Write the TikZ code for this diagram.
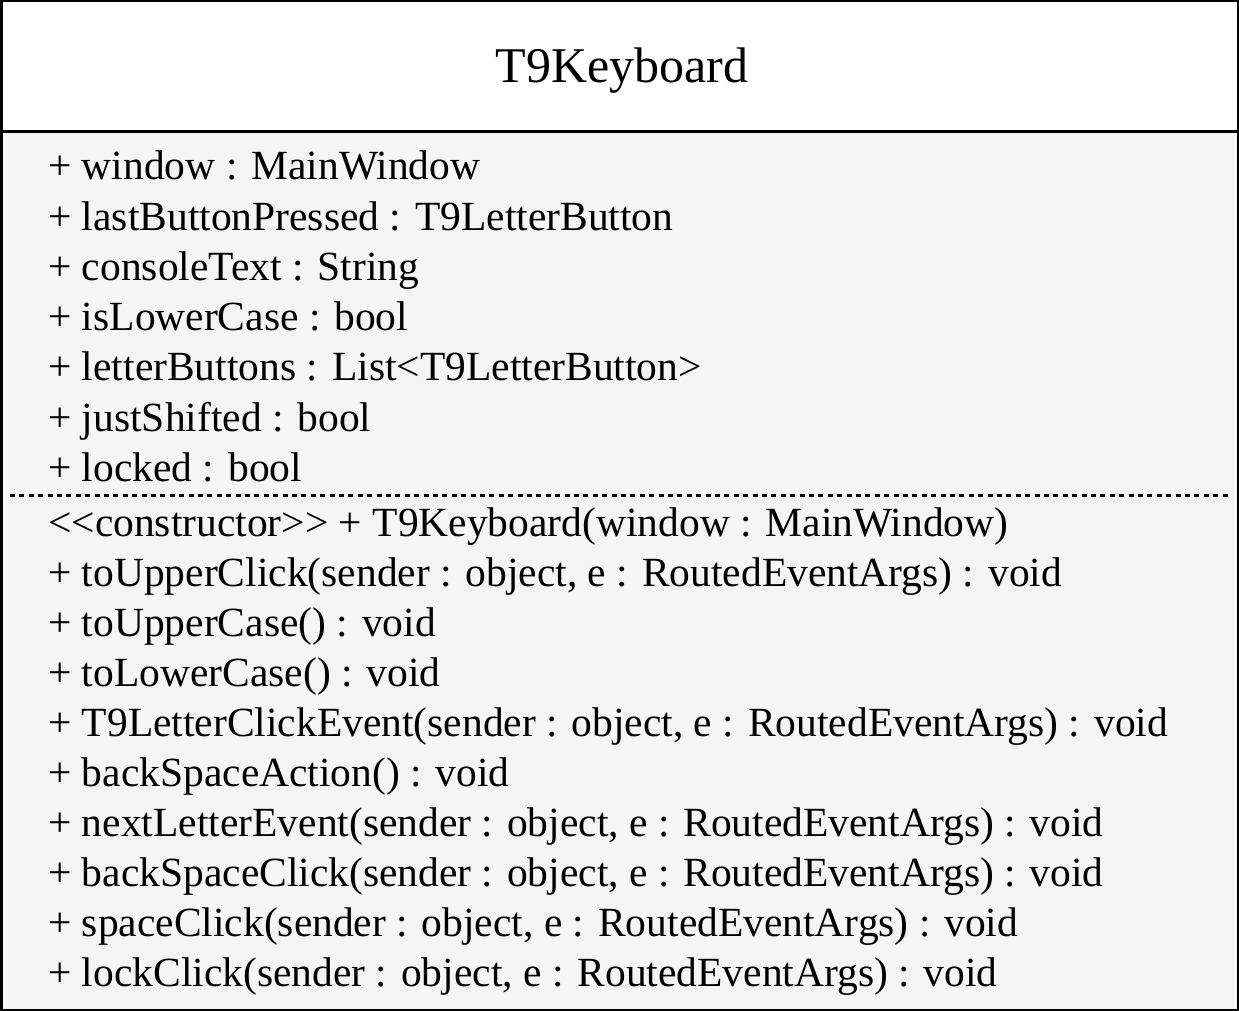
\documentclass[tikz,border=0pt]{standalone}
\usepackage{fontspec}
\setmainfont{Liberation Serif}
\begin{document}
\begin{tikzpicture}[x=1pt,y=-1pt,
  titletext/.style={anchor=base,inner sep=0pt,font=\fontsize{50}{60}\selectfont},
  membertext/.style={anchor=base west,inner sep=0pt,font=\fontsize{41.5}{50}\selectfont},
  frameline/.style={line width=2.5pt,draw=black}]
\useasboundingbox (0,0) rectangle (1239,1011);
% class box: white header, light grey body
\fill[white] (1,1) rectangle (1238,131);
\fill[black!4] (1,131) rectangle (1238,1010);
\draw[frameline] (1.25,1.25) rectangle (1237.75,1009.75);
\draw[line width=3pt] (1,131.5) -- (1238,131.5);
\draw[line width=3pt,dash pattern=on 5pt off 4.4pt] (10,495) -- (1228,495);
% class name
\node[titletext] (title) at (622,83) {T9Keyboard};
% attributes
\node[membertext] (a1) at (48,180) {+ window : MainWindow};
\node[membertext] (a2) at (48,230.2) {+ lastButtonPressed : T9LetterButton};
\node[membertext] (a3) at (48,280.4) {+ consoleText : String};
\node[membertext] (a4) at (48,330.6) {+ isLowerCase : bool};
\node[membertext] (a5) at (48,380.8) {+ letterButtons : List<T9LetterButton>};
\node[membertext] (a6) at (48,431) {+ justShifted : bool};
\node[membertext] (a7) at (48,481.2) {+ locked : bool};
% operations
\node[membertext] (m1) at (48,536) {<{}<constructor>{}> + T9Keyboard(window : MainWindow)};
\node[membertext] (m2) at (48,586.1) {+ toUpperClick(sender : object, e : RoutedEventArgs) : void};
\node[membertext] (m3) at (48,636.2) {+ toUpperCase() : void};
\node[membertext] (m4) at (48,686.3) {+ toLowerCase() : void};
\node[membertext] (m5) at (48,736.4) {+ T9LetterClickEvent(sender : object, e : RoutedEventArgs) : void};
\node[membertext] (m6) at (48,786.5) {+ backSpaceAction() : void};
\node[membertext] (m7) at (48,836.6) {+ nextLetterEvent(sender : object, e : RoutedEventArgs) : void};
\node[membertext] (m8) at (48,886.7) {+ backSpaceClick(sender : object, e : RoutedEventArgs) : void};
\node[membertext] (m9) at (48,936.8) {+ spaceClick(sender : object, e : RoutedEventArgs) : void};
\node[membertext] (m10) at (48,986.9) {+ lockClick(sender : object, e : RoutedEventArgs) : void};
\end{tikzpicture}
\end{document}
